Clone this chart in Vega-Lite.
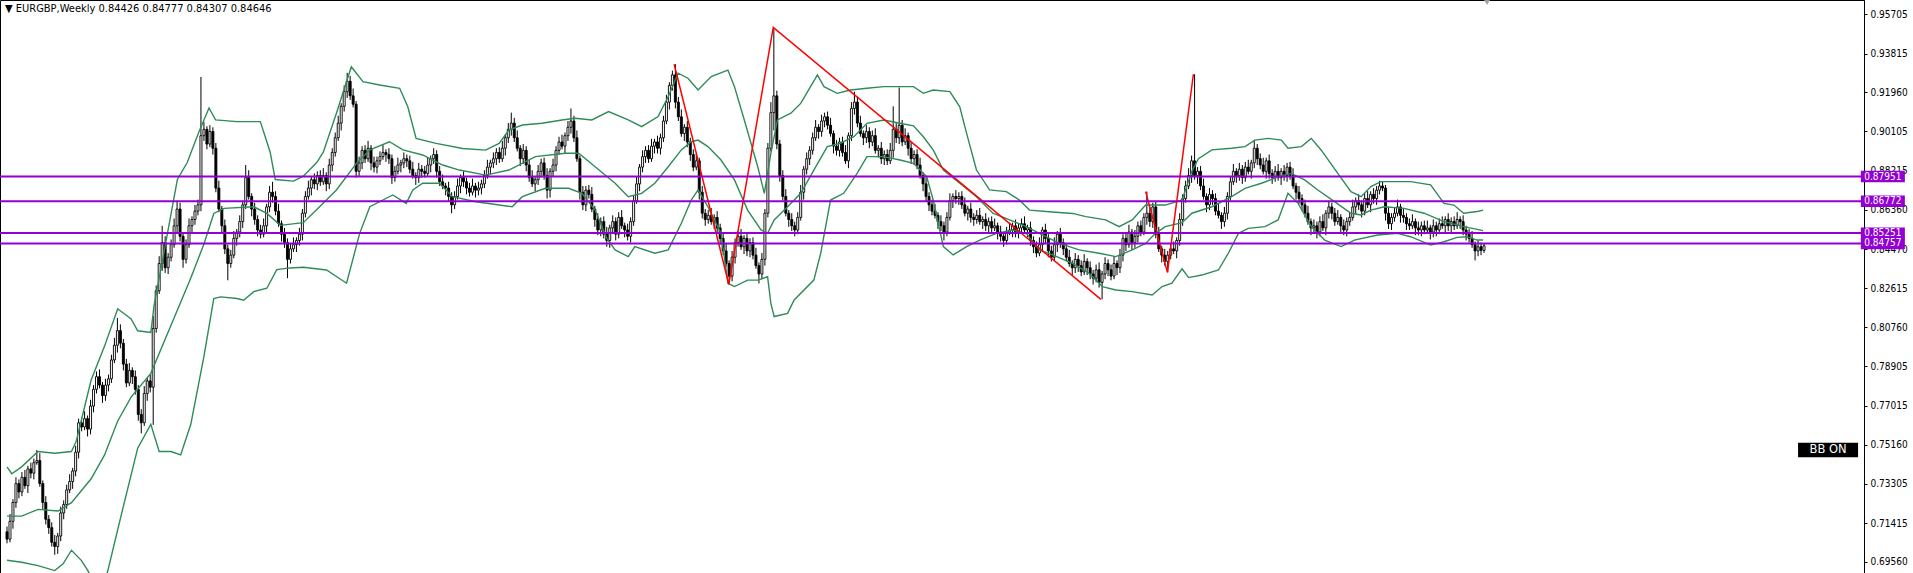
{
"$schema":"https://vega.github.io/schema/vega-lite/v6.json",
"width":1864,"height":573,"autosize":{"type":"none"},"padding":{"left":0,"top":0,"right":49,"bottom":0},"background":"#ffffff",
"config":{"view":{"stroke":"#000000","strokeWidth":1},"font":"DejaVu Sans Condensed, DejaVu Sans",
 "axisY":{"grid":false,"domain":true,"domainColor":"#000000","tickColor":"#000000","tickSize":3,"labelPadding":3,"labelFont":"DejaVu Sans Condensed, DejaVu Sans","labelFontSize":10,"labelColor":"#000000","labelOverlap":false,"labelFlush":false}},
"title":{"text":"▼ EURGBP,Weekly  0.84426 0.84777 0.84307 0.84646","anchor":"start","frame":"group","orient":"top","offset":-24,"baseline":"alphabetic","dx":5,"font":"DejaVu Sans Condensed, DejaVu Sans","fontSize":11,"fontWeight":"normal","color":"#000000"},
"datasets":{
"bars":[
{"i":0,"o":0.7100,"h":0.7125,"l":0.7045,"c":0.7065},{"i":1,"o":0.7065,"h":0.7185,"l":0.7050,"c":0.7150},{"i":2,"o":0.7150,"h":0.7255,"l":0.7115,"c":0.7240},{"i":3,"o":0.7240,"h":0.7360,"l":0.7215,"c":0.7330},{"i":4,"o":0.7330,"h":0.7350,"l":0.7260,"c":0.7290},{"i":5,"o":0.7290,"h":0.7385,"l":0.7270,"c":0.7360},{"i":6,"o":0.7360,"h":0.7395,"l":0.7305,"c":0.7320},{"i":7,"o":0.7320,"h":0.7415,"l":0.7285,"c":0.7400},{"i":8,"o":0.7400,"h":0.7430,"l":0.7355,"c":0.7380},{"i":9,"o":0.7380,"h":0.7450,"l":0.7350,"c":0.7430},
{"i":10,"o":0.7430,"h":0.7490,"l":0.7420,"c":0.7440},{"i":11,"o":0.7440,"h":0.7475,"l":0.7315,"c":0.7330},{"i":12,"o":0.7330,"h":0.7345,"l":0.7205,"c":0.7240},{"i":13,"o":0.7240,"h":0.7270,"l":0.7135,"c":0.7160},{"i":14,"o":0.7160,"h":0.7180,"l":0.7090,"c":0.7120},{"i":15,"o":0.7120,"h":0.7145,"l":0.7030,"c":0.7050},{"i":16,"o":0.7050,"h":0.7085,"l":0.6990,"c":0.7030},{"i":17,"o":0.7030,"h":0.7095,"l":0.6995,"c":0.7080},{"i":18,"o":0.7080,"h":0.7220,"l":0.7055,"c":0.7190},{"i":19,"o":0.7190,"h":0.7250,"l":0.7160,"c":0.7230},
{"i":20,"o":0.7230,"h":0.7325,"l":0.7210,"c":0.7300},{"i":21,"o":0.7300,"h":0.7375,"l":0.7285,"c":0.7340},{"i":22,"o":0.7340,"h":0.7405,"l":0.7305,"c":0.7390},{"i":23,"o":0.7390,"h":0.7510,"l":0.7365,"c":0.7480},{"i":24,"o":0.7480,"h":0.7640,"l":0.7450,"c":0.7620},{"i":25,"o":0.7620,"h":0.7645,"l":0.7580,"c":0.7600},{"i":26,"o":0.7600,"h":0.7675,"l":0.7585,"c":0.7640},{"i":27,"o":0.7640,"h":0.7655,"l":0.7555,"c":0.7590},{"i":28,"o":0.7590,"h":0.7730,"l":0.7565,"c":0.7700},{"i":29,"o":0.7700,"h":0.7800,"l":0.7670,"c":0.7780},
{"i":30,"o":0.7780,"h":0.7865,"l":0.7760,"c":0.7840},{"i":31,"o":0.7840,"h":0.7875,"l":0.7785,"c":0.7800},{"i":32,"o":0.7800,"h":0.7815,"l":0.7715,"c":0.7750},{"i":33,"o":0.7750,"h":0.7830,"l":0.7725,"c":0.7800},{"i":34,"o":0.7800,"h":0.7850,"l":0.7770,"c":0.7830},{"i":35,"o":0.7830,"h":0.7945,"l":0.7810,"c":0.7920},{"i":36,"o":0.7920,"h":0.8025,"l":0.7905,"c":0.7990},{"i":37,"o":0.7990,"h":0.8120,"l":0.7955,"c":0.8060},{"i":38,"o":0.8060,"h":0.8090,"l":0.7975,"c":0.8000},{"i":39,"o":0.8000,"h":0.8020,"l":0.7870,"c":0.7900},
{"i":40,"o":0.7900,"h":0.7925,"l":0.7790,"c":0.7810},{"i":41,"o":0.7810,"h":0.7905,"l":0.7795,"c":0.7870},{"i":42,"o":0.7870,"h":0.7885,"l":0.7805,"c":0.7840},{"i":43,"o":0.7840,"h":0.7870,"l":0.7755,"c":0.7780},{"i":44,"o":0.7780,"h":0.7800,"l":0.7630,"c":0.7660},{"i":45,"o":0.7660,"h":0.7685,"l":0.7570,"c":0.7620},{"i":46,"o":0.7620,"h":0.7795,"l":0.7605,"c":0.7760},{"i":47,"o":0.7760,"h":0.7835,"l":0.7725,"c":0.7820},{"i":48,"o":0.7820,"h":0.7850,"l":0.7765,"c":0.7790},{"i":49,"o":0.7790,"h":0.8130,"l":0.7610,"c":0.8070},
{"i":50,"o":0.8070,"h":0.8275,"l":0.8050,"c":0.8250},{"i":51,"o":0.8250,"h":0.8415,"l":0.8235,"c":0.8380},{"i":52,"o":0.8380,"h":0.8560,"l":0.8345,"c":0.8480},{"i":53,"o":0.8480,"h":0.8510,"l":0.8335,"c":0.8360},{"i":54,"o":0.8360,"h":0.8430,"l":0.8330,"c":0.8410},{"i":55,"o":0.8410,"h":0.8495,"l":0.8390,"c":0.8470},{"i":56,"o":0.8470,"h":0.8595,"l":0.8455,"c":0.8560},{"i":57,"o":0.8560,"h":0.8680,"l":0.8525,"c":0.8640},{"i":58,"o":0.8640,"h":0.8670,"l":0.8485,"c":0.8510},{"i":59,"o":0.8510,"h":0.8530,"l":0.8360,"c":0.8400},
{"i":60,"o":0.8400,"h":0.8495,"l":0.8380,"c":0.8470},{"i":61,"o":0.8470,"h":0.8595,"l":0.8455,"c":0.8560},{"i":62,"o":0.8560,"h":0.8605,"l":0.8525,"c":0.8590},{"i":63,"o":0.8590,"h":0.8660,"l":0.8565,"c":0.8630},{"i":64,"o":0.8630,"h":0.8685,"l":0.8610,"c":0.8660},{"i":65,"o":0.8660,"h":0.9270,"l":0.8630,"c":0.8990},{"i":66,"o":0.8990,"h":0.9055,"l":0.8965,"c":0.9020},{"i":67,"o":0.9020,"h":0.9035,"l":0.8925,"c":0.8950},{"i":68,"o":0.8950,"h":0.9040,"l":0.8935,"c":0.9010},{"i":69,"o":0.9010,"h":0.9030,"l":0.8900,"c":0.8930},
{"i":70,"o":0.8930,"h":0.8955,"l":0.8720,"c":0.8740},{"i":71,"o":0.8740,"h":0.8775,"l":0.8625,"c":0.8640},{"i":72,"o":0.8640,"h":0.8655,"l":0.8525,"c":0.8560},{"i":73,"o":0.8560,"h":0.8590,"l":0.8425,"c":0.8450},{"i":74,"o":0.8450,"h":0.8470,"l":0.8300,"c":0.8380},{"i":75,"o":0.8380,"h":0.8445,"l":0.8360,"c":0.8420},{"i":76,"o":0.8420,"h":0.8535,"l":0.8405,"c":0.8500},{"i":77,"o":0.8500,"h":0.8545,"l":0.8465,"c":0.8530},{"i":78,"o":0.8530,"h":0.8610,"l":0.8505,"c":0.8580},{"i":79,"o":0.8580,"h":0.8680,"l":0.8550,"c":0.8660},
{"i":80,"o":0.8660,"h":0.8850,"l":0.8640,"c":0.8790},{"i":81,"o":0.8790,"h":0.8825,"l":0.8685,"c":0.8700},{"i":82,"o":0.8700,"h":0.8715,"l":0.8605,"c":0.8640},{"i":83,"o":0.8640,"h":0.8670,"l":0.8565,"c":0.8590},{"i":84,"o":0.8590,"h":0.8610,"l":0.8510,"c":0.8540},{"i":85,"o":0.8540,"h":0.8565,"l":0.8500,"c":0.8520},{"i":86,"o":0.8520,"h":0.8595,"l":0.8505,"c":0.8560},{"i":87,"o":0.8560,"h":0.8665,"l":0.8525,"c":0.8650},{"i":88,"o":0.8650,"h":0.8750,"l":0.8625,"c":0.8720},{"i":89,"o":0.8720,"h":0.8770,"l":0.8670,"c":0.8700},
{"i":90,"o":0.8700,"h":0.8725,"l":0.8610,"c":0.8630},{"i":91,"o":0.8630,"h":0.8665,"l":0.8555,"c":0.8570},{"i":92,"o":0.8570,"h":0.8585,"l":0.8485,"c":0.8520},{"i":93,"o":0.8520,"h":0.8550,"l":0.8455,"c":0.8480},{"i":94,"o":0.8480,"h":0.8500,"l":0.8310,"c":0.8400},{"i":95,"o":0.8400,"h":0.8475,"l":0.8380,"c":0.8450},{"i":96,"o":0.8450,"h":0.8505,"l":0.8435,"c":0.8470},{"i":97,"o":0.8470,"h":0.8505,"l":0.8435,"c":0.8490},{"i":98,"o":0.8490,"h":0.8550,"l":0.8465,"c":0.8520},{"i":99,"o":0.8520,"h":0.8640,"l":0.8490,"c":0.8620},
{"i":100,"o":0.8620,"h":0.8725,"l":0.8600,"c":0.8700},{"i":101,"o":0.8700,"h":0.8775,"l":0.8685,"c":0.8740},{"i":102,"o":0.8740,"h":0.8795,"l":0.8705,"c":0.8780},{"i":103,"o":0.8780,"h":0.8810,"l":0.8735,"c":0.8760},{"i":104,"o":0.8760,"h":0.8820,"l":0.8730,"c":0.8800},{"i":105,"o":0.8800,"h":0.8825,"l":0.8750,"c":0.8770},{"i":106,"o":0.8770,"h":0.8835,"l":0.8755,"c":0.8800},{"i":107,"o":0.8800,"h":0.8815,"l":0.8725,"c":0.8760},{"i":108,"o":0.8760,"h":0.8880,"l":0.8735,"c":0.8850},{"i":109,"o":0.8850,"h":0.8930,"l":0.8820,"c":0.8910},
{"i":110,"o":0.8910,"h":0.9005,"l":0.8890,"c":0.8980},{"i":111,"o":0.8980,"h":0.9085,"l":0.8965,"c":0.9050},{"i":112,"o":0.9050,"h":0.9145,"l":0.9015,"c":0.9130},{"i":113,"o":0.9130,"h":0.9230,"l":0.9105,"c":0.9200},{"i":114,"o":0.9200,"h":0.9290,"l":0.9170,"c":0.9250},{"i":115,"o":0.9250,"h":0.9275,"l":0.9160,"c":0.9180},{"i":116,"o":0.9180,"h":0.9215,"l":0.9125,"c":0.9140},{"i":117,"o":0.9140,"h":0.9155,"l":0.8790,"c":0.8820},{"i":118,"o":0.8820,"h":0.8890,"l":0.8795,"c":0.8860},{"i":119,"o":0.8860,"h":0.8940,"l":0.8830,"c":0.8920},
{"i":120,"o":0.8920,"h":0.8945,"l":0.8860,"c":0.8880},{"i":121,"o":0.8880,"h":0.8965,"l":0.8865,"c":0.8930},{"i":122,"o":0.8930,"h":0.8945,"l":0.8825,"c":0.8860},{"i":123,"o":0.8860,"h":0.8890,"l":0.8815,"c":0.8840},{"i":124,"o":0.8840,"h":0.8890,"l":0.8810,"c":0.8870},{"i":125,"o":0.8870,"h":0.8915,"l":0.8850,"c":0.8890},{"i":126,"o":0.8890,"h":0.8945,"l":0.8875,"c":0.8910},{"i":127,"o":0.8910,"h":0.8925,"l":0.8865,"c":0.8900},{"i":128,"o":0.8900,"h":0.8930,"l":0.8855,"c":0.8880},{"i":129,"o":0.8880,"h":0.8900,"l":0.8760,"c":0.8790},
{"i":130,"o":0.8790,"h":0.8845,"l":0.8770,"c":0.8820},{"i":131,"o":0.8820,"h":0.8885,"l":0.8805,"c":0.8850},{"i":132,"o":0.8850,"h":0.8875,"l":0.8815,"c":0.8860},{"i":133,"o":0.8860,"h":0.8910,"l":0.8835,"c":0.8880},{"i":134,"o":0.8880,"h":0.8900,"l":0.8840,"c":0.8870},{"i":135,"o":0.8870,"h":0.8895,"l":0.8810,"c":0.8830},{"i":136,"o":0.8830,"h":0.8865,"l":0.8785,"c":0.8800},{"i":137,"o":0.8800,"h":0.8815,"l":0.8755,"c":0.8790},{"i":138,"o":0.8790,"h":0.8860,"l":0.8765,"c":0.8830},{"i":139,"o":0.8830,"h":0.8850,"l":0.8790,"c":0.8820},
{"i":140,"o":0.8820,"h":0.8845,"l":0.8790,"c":0.8810},{"i":141,"o":0.8810,"h":0.8885,"l":0.8795,"c":0.8850},{"i":142,"o":0.8850,"h":0.8895,"l":0.8815,"c":0.8880},{"i":143,"o":0.8880,"h":0.8930,"l":0.8855,"c":0.8900},{"i":144,"o":0.8900,"h":0.8920,"l":0.8790,"c":0.8820},{"i":145,"o":0.8820,"h":0.8845,"l":0.8750,"c":0.8770},{"i":146,"o":0.8770,"h":0.8805,"l":0.8735,"c":0.8750},{"i":147,"o":0.8750,"h":0.8765,"l":0.8705,"c":0.8740},{"i":148,"o":0.8740,"h":0.8770,"l":0.8675,"c":0.8700},{"i":149,"o":0.8700,"h":0.8720,"l":0.8620,"c":0.8660},
{"i":150,"o":0.8660,"h":0.8725,"l":0.8640,"c":0.8700},{"i":151,"o":0.8700,"h":0.8785,"l":0.8685,"c":0.8750},{"i":152,"o":0.8750,"h":0.8805,"l":0.8715,"c":0.8790},{"i":153,"o":0.8790,"h":0.8820,"l":0.8745,"c":0.8770},{"i":154,"o":0.8770,"h":0.8790,"l":0.8710,"c":0.8740},{"i":155,"o":0.8740,"h":0.8765,"l":0.8700,"c":0.8720},{"i":156,"o":0.8720,"h":0.8785,"l":0.8705,"c":0.8750},{"i":157,"o":0.8750,"h":0.8765,"l":0.8695,"c":0.8730},{"i":158,"o":0.8730,"h":0.8770,"l":0.8705,"c":0.8740},{"i":159,"o":0.8740,"h":0.8780,"l":0.8710,"c":0.8760},
{"i":160,"o":0.8760,"h":0.8825,"l":0.8740,"c":0.8800},{"i":161,"o":0.8800,"h":0.8875,"l":0.8785,"c":0.8840},{"i":162,"o":0.8840,"h":0.8875,"l":0.8805,"c":0.8860},{"i":163,"o":0.8860,"h":0.8910,"l":0.8835,"c":0.8880},{"i":164,"o":0.8880,"h":0.8930,"l":0.8850,"c":0.8910},{"i":165,"o":0.8910,"h":0.8935,"l":0.8860,"c":0.8880},{"i":166,"o":0.8880,"h":0.8965,"l":0.8865,"c":0.8930},{"i":167,"o":0.8930,"h":0.8995,"l":0.8895,"c":0.8980},{"i":168,"o":0.8980,"h":0.9050,"l":0.8955,"c":0.9020},{"i":169,"o":0.9020,"h":0.9100,"l":0.8990,"c":0.9050},
{"i":170,"o":0.9050,"h":0.9075,"l":0.8960,"c":0.8980},{"i":171,"o":0.8980,"h":0.9015,"l":0.8915,"c":0.8930},{"i":172,"o":0.8930,"h":0.8945,"l":0.8845,"c":0.8880},{"i":173,"o":0.8880,"h":0.8950,"l":0.8855,"c":0.8920},{"i":174,"o":0.8920,"h":0.8940,"l":0.8820,"c":0.8850},{"i":175,"o":0.8850,"h":0.8875,"l":0.8770,"c":0.8790},{"i":176,"o":0.8790,"h":0.8825,"l":0.8745,"c":0.8760},{"i":177,"o":0.8760,"h":0.8795,"l":0.8725,"c":0.8780},{"i":178,"o":0.8780,"h":0.8850,"l":0.8755,"c":0.8820},{"i":179,"o":0.8820,"h":0.8880,"l":0.8790,"c":0.8860},
{"i":180,"o":0.8860,"h":0.8885,"l":0.8780,"c":0.8800},{"i":181,"o":0.8800,"h":0.8835,"l":0.8690,"c":0.8730},{"i":182,"o":0.8730,"h":0.8835,"l":0.8695,"c":0.8820},{"i":183,"o":0.8820,"h":0.8880,"l":0.8795,"c":0.8850},{"i":184,"o":0.8850,"h":0.8940,"l":0.8820,"c":0.8920},{"i":185,"o":0.8920,"h":0.8985,"l":0.8900,"c":0.8960},{"i":186,"o":0.8960,"h":0.8995,"l":0.8925,"c":0.8940},{"i":187,"o":0.8940,"h":0.9005,"l":0.8905,"c":0.8990},{"i":188,"o":0.8990,"h":0.9060,"l":0.8965,"c":0.9030},{"i":189,"o":0.9030,"h":0.9120,"l":0.9000,"c":0.9060},
{"i":190,"o":0.9060,"h":0.9085,"l":0.8960,"c":0.8980},{"i":191,"o":0.8980,"h":0.9015,"l":0.8865,"c":0.8880},{"i":192,"o":0.8880,"h":0.8895,"l":0.8685,"c":0.8720},{"i":193,"o":0.8720,"h":0.8750,"l":0.8635,"c":0.8660},{"i":194,"o":0.8660,"h":0.8750,"l":0.8630,"c":0.8730},{"i":195,"o":0.8730,"h":0.8755,"l":0.8690,"c":0.8710},{"i":196,"o":0.8710,"h":0.8745,"l":0.8625,"c":0.8640},{"i":197,"o":0.8640,"h":0.8655,"l":0.8555,"c":0.8590},{"i":198,"o":0.8590,"h":0.8620,"l":0.8515,"c":0.8540},{"i":199,"o":0.8540,"h":0.8600,"l":0.8510,"c":0.8580},
{"i":200,"o":0.8580,"h":0.8605,"l":0.8500,"c":0.8520},{"i":201,"o":0.8520,"h":0.8555,"l":0.8460,"c":0.8490},{"i":202,"o":0.8490,"h":0.8565,"l":0.8455,"c":0.8550},{"i":203,"o":0.8550,"h":0.8610,"l":0.8525,"c":0.8580},{"i":204,"o":0.8580,"h":0.8600,"l":0.8490,"c":0.8520},{"i":205,"o":0.8520,"h":0.8625,"l":0.8500,"c":0.8600},{"i":206,"o":0.8600,"h":0.8635,"l":0.8545,"c":0.8560},{"i":207,"o":0.8560,"h":0.8575,"l":0.8505,"c":0.8540},{"i":208,"o":0.8540,"h":0.8570,"l":0.8490,"c":0.8510},{"i":209,"o":0.8510,"h":0.8600,"l":0.8480,"c":0.8580},
{"i":210,"o":0.8580,"h":0.8705,"l":0.8560,"c":0.8680},{"i":211,"o":0.8680,"h":0.8795,"l":0.8665,"c":0.8760},{"i":212,"o":0.8760,"h":0.8855,"l":0.8725,"c":0.8840},{"i":213,"o":0.8840,"h":0.8920,"l":0.8815,"c":0.8890},{"i":214,"o":0.8890,"h":0.8940,"l":0.8860,"c":0.8920},{"i":215,"o":0.8920,"h":0.8945,"l":0.8860,"c":0.8880},{"i":216,"o":0.8880,"h":0.8975,"l":0.8865,"c":0.8940},{"i":217,"o":0.8940,"h":0.8975,"l":0.8905,"c":0.8960},{"i":218,"o":0.8960,"h":0.8990,"l":0.8905,"c":0.8930},{"i":219,"o":0.8930,"h":0.9000,"l":0.8900,"c":0.8980},
{"i":220,"o":0.8980,"h":0.9085,"l":0.8960,"c":0.9060},{"i":221,"o":0.9060,"h":0.9185,"l":0.9045,"c":0.9150},{"i":222,"o":0.9150,"h":0.9245,"l":0.9115,"c":0.9230},{"i":223,"o":0.9230,"h":0.9300,"l":0.9205,"c":0.9280},{"i":224,"o":0.9280,"h":0.9331,"l":0.9120,"c":0.9150},{"i":225,"o":0.9150,"h":0.9175,"l":0.9060,"c":0.9080},{"i":226,"o":0.9080,"h":0.9115,"l":0.8985,"c":0.9000},{"i":227,"o":0.9000,"h":0.9045,"l":0.8965,"c":0.9030},{"i":228,"o":0.9030,"h":0.9060,"l":0.8935,"c":0.8960},{"i":229,"o":0.8960,"h":0.8980,"l":0.8870,"c":0.8900},
{"i":230,"o":0.8900,"h":0.8925,"l":0.8820,"c":0.8840},{"i":231,"o":0.8840,"h":0.8905,"l":0.8825,"c":0.8870},{"i":232,"o":0.8870,"h":0.8885,"l":0.8685,"c":0.8720},{"i":233,"o":0.8720,"h":0.8750,"l":0.8595,"c":0.8620},{"i":234,"o":0.8620,"h":0.8640,"l":0.8560,"c":0.8590},{"i":235,"o":0.8590,"h":0.8635,"l":0.8570,"c":0.8610},{"i":236,"o":0.8610,"h":0.8645,"l":0.8565,"c":0.8580},{"i":237,"o":0.8580,"h":0.8615,"l":0.8545,"c":0.8600},{"i":238,"o":0.8600,"h":0.8630,"l":0.8525,"c":0.8550},{"i":239,"o":0.8550,"h":0.8570,"l":0.8470,"c":0.8500},
{"i":240,"o":0.8500,"h":0.8525,"l":0.8420,"c":0.8440},{"i":241,"o":0.8440,"h":0.8475,"l":0.8365,"c":0.8380},{"i":242,"o":0.8380,"h":0.8395,"l":0.8281,"c":0.8320},{"i":243,"o":0.8320,"h":0.8440,"l":0.8295,"c":0.8410},{"i":244,"o":0.8410,"h":0.8500,"l":0.8380,"c":0.8480},{"i":245,"o":0.8480,"h":0.8535,"l":0.8460,"c":0.8510},{"i":246,"o":0.8510,"h":0.8545,"l":0.8445,"c":0.8460},{"i":247,"o":0.8460,"h":0.8515,"l":0.8425,"c":0.8500},{"i":248,"o":0.8500,"h":0.8530,"l":0.8415,"c":0.8440},{"i":249,"o":0.8440,"h":0.8500,"l":0.8410,"c":0.8480},
{"i":250,"o":0.8480,"h":0.8505,"l":0.8400,"c":0.8420},{"i":251,"o":0.8420,"h":0.8455,"l":0.8355,"c":0.8370},{"i":252,"o":0.8370,"h":0.8385,"l":0.8285,"c":0.8330},{"i":253,"o":0.8330,"h":0.8430,"l":0.8305,"c":0.8400},{"i":254,"o":0.8400,"h":0.8640,"l":0.8370,"c":0.8620},{"i":255,"o":0.8620,"h":0.8955,"l":0.8600,"c":0.8930},{"i":256,"o":0.8930,"h":0.9150,"l":0.8915,"c":0.9100},{"i":257,"o":0.9100,"h":0.9500,"l":0.9015,"c":0.9180},{"i":258,"o":0.9180,"h":0.9205,"l":0.8925,"c":0.8950},{"i":259,"o":0.8950,"h":0.8970,"l":0.8770,"c":0.8800},
{"i":260,"o":0.8800,"h":0.8825,"l":0.8680,"c":0.8700},{"i":261,"o":0.8700,"h":0.8735,"l":0.8605,"c":0.8620},{"i":262,"o":0.8620,"h":0.8635,"l":0.8555,"c":0.8590},{"i":263,"o":0.8590,"h":0.8620,"l":0.8535,"c":0.8560},{"i":264,"o":0.8560,"h":0.8580,"l":0.8510,"c":0.8540},{"i":265,"o":0.8540,"h":0.8625,"l":0.8520,"c":0.8600},{"i":266,"o":0.8600,"h":0.8755,"l":0.8585,"c":0.8720},{"i":267,"o":0.8720,"h":0.8845,"l":0.8685,"c":0.8830},{"i":268,"o":0.8830,"h":0.8910,"l":0.8805,"c":0.8880},{"i":269,"o":0.8880,"h":0.8940,"l":0.8850,"c":0.8920},
{"i":270,"o":0.8920,"h":0.9005,"l":0.8900,"c":0.8980},{"i":271,"o":0.8980,"h":0.9065,"l":0.8965,"c":0.9030},{"i":272,"o":0.9030,"h":0.9045,"l":0.8975,"c":0.9010},{"i":273,"o":0.9010,"h":0.9090,"l":0.8985,"c":0.9060},{"i":274,"o":0.9060,"h":0.9100,"l":0.9030,"c":0.9080},{"i":275,"o":0.9080,"h":0.9105,"l":0.9020,"c":0.9040},{"i":276,"o":0.9040,"h":0.9075,"l":0.8985,"c":0.9000},{"i":277,"o":0.9000,"h":0.9015,"l":0.8905,"c":0.8940},{"i":278,"o":0.8940,"h":0.8970,"l":0.8895,"c":0.8920},{"i":279,"o":0.8920,"h":0.8980,"l":0.8890,"c":0.8960},
{"i":280,"o":0.8960,"h":0.8985,"l":0.8890,"c":0.8910},{"i":281,"o":0.8910,"h":0.8945,"l":0.8855,"c":0.8870},{"i":282,"o":0.8870,"h":0.9005,"l":0.8835,"c":0.8990},{"i":283,"o":0.8990,"h":0.9150,"l":0.8965,"c":0.9120},{"i":284,"o":0.9120,"h":0.9200,"l":0.9090,"c":0.9150},{"i":285,"o":0.9150,"h":0.9175,"l":0.9030,"c":0.9050},{"i":286,"o":0.9050,"h":0.9085,"l":0.8985,"c":0.9000},{"i":287,"o":0.9000,"h":0.9015,"l":0.8945,"c":0.8980},{"i":288,"o":0.8980,"h":0.9040,"l":0.8955,"c":0.9010},{"i":289,"o":0.9010,"h":0.9030,"l":0.8930,"c":0.8960},
{"i":290,"o":0.8960,"h":0.9015,"l":0.8940,"c":0.8990},{"i":291,"o":0.8990,"h":0.9025,"l":0.8905,"c":0.8920},{"i":292,"o":0.8920,"h":0.8945,"l":0.8885,"c":0.8930},{"i":293,"o":0.8930,"h":0.8960,"l":0.8855,"c":0.8880},{"i":294,"o":0.8880,"h":0.8920,"l":0.8850,"c":0.8900},{"i":295,"o":0.8900,"h":0.8925,"l":0.8850,"c":0.8870},{"i":296,"o":0.8870,"h":0.8955,"l":0.8855,"c":0.8920},{"i":297,"o":0.8920,"h":0.9130,"l":0.8885,"c":0.9020},{"i":298,"o":0.9020,"h":0.9050,"l":0.8955,"c":0.8980},{"i":299,"o":0.8980,"h":0.9220,"l":0.8950,"c":0.9040},
{"i":300,"o":0.9040,"h":0.9065,"l":0.8940,"c":0.8960},{"i":301,"o":0.8960,"h":0.9025,"l":0.8945,"c":0.8990},{"i":302,"o":0.8990,"h":0.9005,"l":0.8895,"c":0.8930},{"i":303,"o":0.8930,"h":0.8960,"l":0.8855,"c":0.8880},{"i":304,"o":0.8880,"h":0.8920,"l":0.8850,"c":0.8900},{"i":305,"o":0.8900,"h":0.8925,"l":0.8830,"c":0.8850},{"i":306,"o":0.8850,"h":0.8885,"l":0.8785,"c":0.8800},{"i":307,"o":0.8800,"h":0.8815,"l":0.8725,"c":0.8760},{"i":308,"o":0.8760,"h":0.8790,"l":0.8675,"c":0.8700},{"i":309,"o":0.8700,"h":0.8720,"l":0.8630,"c":0.8660},
{"i":310,"o":0.8660,"h":0.8685,"l":0.8610,"c":0.8630},{"i":311,"o":0.8630,"h":0.8665,"l":0.8595,"c":0.8610},{"i":312,"o":0.8610,"h":0.8625,"l":0.8545,"c":0.8580},{"i":313,"o":0.8580,"h":0.8610,"l":0.8535,"c":0.8560},{"i":314,"o":0.8560,"h":0.8580,"l":0.8490,"c":0.8530},{"i":315,"o":0.8530,"h":0.8625,"l":0.8510,"c":0.8600},{"i":316,"o":0.8600,"h":0.8715,"l":0.8585,"c":0.8680},{"i":317,"o":0.8680,"h":0.8715,"l":0.8645,"c":0.8700},{"i":318,"o":0.8700,"h":0.8730,"l":0.8665,"c":0.8690},{"i":319,"o":0.8690,"h":0.8720,"l":0.8660,"c":0.8700},
{"i":320,"o":0.8700,"h":0.8725,"l":0.8640,"c":0.8660},{"i":321,"o":0.8660,"h":0.8695,"l":0.8605,"c":0.8620},{"i":322,"o":0.8620,"h":0.8655,"l":0.8585,"c":0.8640},{"i":323,"o":0.8640,"h":0.8670,"l":0.8575,"c":0.8600},{"i":324,"o":0.8600,"h":0.8620,"l":0.8560,"c":0.8590},{"i":325,"o":0.8590,"h":0.8635,"l":0.8570,"c":0.8610},{"i":326,"o":0.8610,"h":0.8645,"l":0.8565,"c":0.8580},{"i":327,"o":0.8580,"h":0.8605,"l":0.8545,"c":0.8590},{"i":328,"o":0.8590,"h":0.8620,"l":0.8535,"c":0.8560},{"i":329,"o":0.8560,"h":0.8600,"l":0.8530,"c":0.8580},
{"i":330,"o":0.8580,"h":0.8605,"l":0.8530,"c":0.8550},{"i":331,"o":0.8550,"h":0.8595,"l":0.8535,"c":0.8560},{"i":332,"o":0.8560,"h":0.8575,"l":0.8495,"c":0.8530},{"i":333,"o":0.8530,"h":0.8560,"l":0.8485,"c":0.8510},{"i":334,"o":0.8510,"h":0.8530,"l":0.8460,"c":0.8490},{"i":335,"o":0.8490,"h":0.8555,"l":0.8470,"c":0.8530},{"i":336,"o":0.8530,"h":0.8575,"l":0.8515,"c":0.8540},{"i":337,"o":0.8540,"h":0.8575,"l":0.8505,"c":0.8560},{"i":338,"o":0.8560,"h":0.8590,"l":0.8505,"c":0.8530},{"i":339,"o":0.8530,"h":0.8570,"l":0.8500,"c":0.8550},
{"i":340,"o":0.8550,"h":0.8595,"l":0.8530,"c":0.8570},{"i":341,"o":0.8570,"h":0.8605,"l":0.8525,"c":0.8540},{"i":342,"o":0.8540,"h":0.8565,"l":0.8505,"c":0.8550},{"i":343,"o":0.8550,"h":0.8580,"l":0.8465,"c":0.8490},{"i":344,"o":0.8490,"h":0.8510,"l":0.8430,"c":0.8460},{"i":345,"o":0.8460,"h":0.8485,"l":0.8410,"c":0.8430},{"i":346,"o":0.8430,"h":0.8505,"l":0.8415,"c":0.8470},{"i":347,"o":0.8470,"h":0.8555,"l":0.8435,"c":0.8540},{"i":348,"o":0.8540,"h":0.8570,"l":0.8475,"c":0.8500},{"i":349,"o":0.8500,"h":0.8520,"l":0.8410,"c":0.8440},
{"i":350,"o":0.8440,"h":0.8465,"l":0.8390,"c":0.8410},{"i":351,"o":0.8410,"h":0.8505,"l":0.8395,"c":0.8470},{"i":352,"o":0.8470,"h":0.8535,"l":0.8435,"c":0.8520},{"i":353,"o":0.8520,"h":0.8550,"l":0.8455,"c":0.8480},{"i":354,"o":0.8480,"h":0.8500,"l":0.8420,"c":0.8450},{"i":355,"o":0.8450,"h":0.8475,"l":0.8390,"c":0.8410},{"i":356,"o":0.8410,"h":0.8445,"l":0.8365,"c":0.8380},{"i":357,"o":0.8380,"h":0.8395,"l":0.8325,"c":0.8360},{"i":358,"o":0.8360,"h":0.8430,"l":0.8335,"c":0.8400},{"i":359,"o":0.8400,"h":0.8420,"l":0.8340,"c":0.8370},
{"i":360,"o":0.8370,"h":0.8395,"l":0.8320,"c":0.8340},{"i":361,"o":0.8340,"h":0.8425,"l":0.8325,"c":0.8390},{"i":362,"o":0.8390,"h":0.8405,"l":0.8325,"c":0.8360},{"i":363,"o":0.8360,"h":0.8390,"l":0.8305,"c":0.8330},{"i":364,"o":0.8330,"h":0.8350,"l":0.8280,"c":0.8310},{"i":365,"o":0.8310,"h":0.8375,"l":0.8290,"c":0.8350},{"i":366,"o":0.8350,"h":0.8385,"l":0.8265,"c":0.8290},{"i":367,"o":0.8290,"h":0.8345,"l":0.8209,"c":0.8330},{"i":368,"o":0.8330,"h":0.8410,"l":0.8305,"c":0.8380},{"i":369,"o":0.8380,"h":0.8400,"l":0.8320,"c":0.8350},
{"i":370,"o":0.8350,"h":0.8375,"l":0.8300,"c":0.8320},{"i":371,"o":0.8320,"h":0.8415,"l":0.8305,"c":0.8380},{"i":372,"o":0.8380,"h":0.8395,"l":0.8325,"c":0.8360},{"i":373,"o":0.8360,"h":0.8450,"l":0.8335,"c":0.8420},{"i":374,"o":0.8420,"h":0.8520,"l":0.8390,"c":0.8500},{"i":375,"o":0.8500,"h":0.8525,"l":0.8440,"c":0.8470},{"i":376,"o":0.8470,"h":0.8565,"l":0.8455,"c":0.8530},{"i":377,"o":0.8530,"h":0.8545,"l":0.8445,"c":0.8480},{"i":378,"o":0.8480,"h":0.8540,"l":0.8455,"c":0.8510},{"i":379,"o":0.8510,"h":0.8580,"l":0.8480,"c":0.8560},
{"i":380,"o":0.8560,"h":0.8585,"l":0.8510,"c":0.8530},{"i":381,"o":0.8530,"h":0.8620,"l":0.8515,"c":0.8600},{"i":382,"o":0.8600,"h":0.8723,"l":0.8565,"c":0.8620},{"i":383,"o":0.8620,"h":0.8650,"l":0.8555,"c":0.8580},{"i":384,"o":0.8580,"h":0.8670,"l":0.8550,"c":0.8650},{"i":385,"o":0.8650,"h":0.8675,"l":0.8500,"c":0.8520},{"i":386,"o":0.8520,"h":0.8555,"l":0.8435,"c":0.8450},{"i":387,"o":0.8450,"h":0.8465,"l":0.8385,"c":0.8420},{"i":388,"o":0.8420,"h":0.8450,"l":0.8370,"c":0.8390},{"i":389,"o":0.8390,"h":0.8440,"l":0.8338,"c":0.8420},
{"i":390,"o":0.8420,"h":0.8475,"l":0.8400,"c":0.8450},{"i":391,"o":0.8450,"h":0.8485,"l":0.8425,"c":0.8440},{"i":392,"o":0.8440,"h":0.8505,"l":0.8405,"c":0.8490},{"i":393,"o":0.8490,"h":0.8620,"l":0.8465,"c":0.8590},{"i":394,"o":0.8590,"h":0.8710,"l":0.8560,"c":0.8690},{"i":395,"o":0.8690,"h":0.8775,"l":0.8670,"c":0.8750},{"i":396,"o":0.8750,"h":0.8835,"l":0.8735,"c":0.8800},{"i":397,"o":0.8800,"h":0.8895,"l":0.8765,"c":0.8870},{"i":398,"o":0.8870,"h":0.9283,"l":0.8780,"c":0.8800},{"i":399,"o":0.8800,"h":0.8840,"l":0.8760,"c":0.8820},
{"i":400,"o":0.8820,"h":0.8845,"l":0.8730,"c":0.8750},{"i":401,"o":0.8750,"h":0.8785,"l":0.8685,"c":0.8700},{"i":402,"o":0.8700,"h":0.8715,"l":0.8625,"c":0.8660},{"i":403,"o":0.8660,"h":0.8740,"l":0.8635,"c":0.8710},{"i":404,"o":0.8710,"h":0.8730,"l":0.8660,"c":0.8690},{"i":405,"o":0.8690,"h":0.8715,"l":0.8610,"c":0.8630},{"i":406,"o":0.8630,"h":0.8665,"l":0.8595,"c":0.8610},{"i":407,"o":0.8610,"h":0.8625,"l":0.8545,"c":0.8580},{"i":408,"o":0.8580,"h":0.8650,"l":0.8555,"c":0.8620},{"i":409,"o":0.8620,"h":0.8720,"l":0.8590,"c":0.8700},
{"i":410,"o":0.8700,"h":0.8795,"l":0.8680,"c":0.8770},{"i":411,"o":0.8770,"h":0.8855,"l":0.8755,"c":0.8820},{"i":412,"o":0.8820,"h":0.8835,"l":0.8765,"c":0.8800},{"i":413,"o":0.8800,"h":0.8860,"l":0.8775,"c":0.8830},{"i":414,"o":0.8830,"h":0.8850,"l":0.8760,"c":0.8790},{"i":415,"o":0.8790,"h":0.8865,"l":0.8770,"c":0.8840},{"i":416,"o":0.8840,"h":0.8875,"l":0.8805,"c":0.8820},{"i":417,"o":0.8820,"h":0.8875,"l":0.8785,"c":0.8860},{"i":418,"o":0.8860,"h":0.8970,"l":0.8835,"c":0.8930},{"i":419,"o":0.8930,"h":0.8950,"l":0.8850,"c":0.8880},
{"i":420,"o":0.8880,"h":0.8905,"l":0.8830,"c":0.8850},{"i":421,"o":0.8850,"h":0.8885,"l":0.8805,"c":0.8820},{"i":422,"o":0.8820,"h":0.8885,"l":0.8785,"c":0.8870},{"i":423,"o":0.8870,"h":0.8900,"l":0.8785,"c":0.8810},{"i":424,"o":0.8810,"h":0.8830,"l":0.8760,"c":0.8790},{"i":425,"o":0.8790,"h":0.8845,"l":0.8770,"c":0.8820},{"i":426,"o":0.8820,"h":0.8855,"l":0.8775,"c":0.8790},{"i":427,"o":0.8790,"h":0.8835,"l":0.8755,"c":0.8820},{"i":428,"o":0.8820,"h":0.8850,"l":0.8775,"c":0.8800},{"i":429,"o":0.8800,"h":0.8860,"l":0.8770,"c":0.8840},
{"i":430,"o":0.8840,"h":0.8865,"l":0.8780,"c":0.8800},{"i":431,"o":0.8800,"h":0.8835,"l":0.8735,"c":0.8750},{"i":432,"o":0.8750,"h":0.8765,"l":0.8685,"c":0.8720},{"i":433,"o":0.8720,"h":0.8750,"l":0.8665,"c":0.8690},{"i":434,"o":0.8690,"h":0.8710,"l":0.8630,"c":0.8660},{"i":435,"o":0.8660,"h":0.8685,"l":0.8600,"c":0.8620},{"i":436,"o":0.8620,"h":0.8655,"l":0.8565,"c":0.8580},{"i":437,"o":0.8580,"h":0.8595,"l":0.8515,"c":0.8550},{"i":438,"o":0.8550,"h":0.8590,"l":0.8525,"c":0.8560},{"i":439,"o":0.8560,"h":0.8580,"l":0.8500,"c":0.8530},
{"i":440,"o":0.8530,"h":0.8605,"l":0.8510,"c":0.8580},{"i":441,"o":0.8580,"h":0.8615,"l":0.8535,"c":0.8550},{"i":442,"o":0.8550,"h":0.8635,"l":0.8515,"c":0.8620},{"i":443,"o":0.8620,"h":0.8680,"l":0.8595,"c":0.8650},{"i":444,"o":0.8650,"h":0.8670,"l":0.8590,"c":0.8620},{"i":445,"o":0.8620,"h":0.8645,"l":0.8560,"c":0.8580},{"i":446,"o":0.8580,"h":0.8635,"l":0.8565,"c":0.8600},{"i":447,"o":0.8600,"h":0.8615,"l":0.8525,"c":0.8560},{"i":448,"o":0.8560,"h":0.8590,"l":0.8515,"c":0.8540},{"i":449,"o":0.8540,"h":0.8600,"l":0.8510,"c":0.8580},
{"i":450,"o":0.8580,"h":0.8625,"l":0.8560,"c":0.8600},{"i":451,"o":0.8600,"h":0.8685,"l":0.8585,"c":0.8650},{"i":452,"o":0.8650,"h":0.8695,"l":0.8615,"c":0.8680},{"i":453,"o":0.8680,"h":0.8710,"l":0.8635,"c":0.8660},{"i":454,"o":0.8660,"h":0.8680,"l":0.8600,"c":0.8630},{"i":455,"o":0.8630,"h":0.8715,"l":0.8610,"c":0.8690},{"i":456,"o":0.8690,"h":0.8725,"l":0.8645,"c":0.8660},{"i":457,"o":0.8660,"h":0.8725,"l":0.8625,"c":0.8710},{"i":458,"o":0.8710,"h":0.8740,"l":0.8665,"c":0.8690},{"i":459,"o":0.8690,"h":0.8750,"l":0.8660,"c":0.8730},
{"i":460,"o":0.8730,"h":0.8775,"l":0.8710,"c":0.8750},{"i":461,"o":0.8750,"h":0.8770,"l":0.8725,"c":0.8740},{"i":462,"o":0.8740,"h":0.8755,"l":0.8585,"c":0.8620},{"i":463,"o":0.8620,"h":0.8650,"l":0.8545,"c":0.8570},{"i":464,"o":0.8570,"h":0.8620,"l":0.8540,"c":0.8600},{"i":465,"o":0.8600,"h":0.8645,"l":0.8580,"c":0.8620},{"i":466,"o":0.8620,"h":0.8685,"l":0.8605,"c":0.8650},{"i":467,"o":0.8650,"h":0.8665,"l":0.8575,"c":0.8610},{"i":468,"o":0.8610,"h":0.8640,"l":0.8575,"c":0.8600},{"i":469,"o":0.8600,"h":0.8620,"l":0.8540,"c":0.8570},
{"i":470,"o":0.8570,"h":0.8595,"l":0.8540,"c":0.8560},{"i":471,"o":0.8560,"h":0.8615,"l":0.8545,"c":0.8580},{"i":472,"o":0.8580,"h":0.8595,"l":0.8515,"c":0.8550},{"i":473,"o":0.8550,"h":0.8580,"l":0.8515,"c":0.8540},{"i":474,"o":0.8540,"h":0.8580,"l":0.8510,"c":0.8560},{"i":475,"o":0.8560,"h":0.8585,"l":0.8520,"c":0.8540},{"i":476,"o":0.8540,"h":0.8585,"l":0.8525,"c":0.8550},{"i":477,"o":0.8550,"h":0.8565,"l":0.8495,"c":0.8530},{"i":478,"o":0.8530,"h":0.8590,"l":0.8505,"c":0.8560},{"i":479,"o":0.8560,"h":0.8580,"l":0.8510,"c":0.8540},
{"i":480,"o":0.8540,"h":0.8595,"l":0.8520,"c":0.8570},{"i":481,"o":0.8570,"h":0.8605,"l":0.8545,"c":0.8560},{"i":482,"o":0.8560,"h":0.8605,"l":0.8525,"c":0.8590},{"i":483,"o":0.8590,"h":0.8620,"l":0.8535,"c":0.8560},{"i":484,"o":0.8560,"h":0.8600,"l":0.8530,"c":0.8580},{"i":485,"o":0.8580,"h":0.8605,"l":0.8540,"c":0.8560},{"i":486,"o":0.8560,"h":0.8625,"l":0.8545,"c":0.8590},{"i":487,"o":0.8590,"h":0.8605,"l":0.8545,"c":0.8580},{"i":488,"o":0.8580,"h":0.8610,"l":0.8515,"c":0.8540},{"i":489,"o":0.8540,"h":0.8560,"l":0.8490,"c":0.8520},
{"i":490,"o":0.8520,"h":0.8545,"l":0.8480,"c":0.8500},{"i":491,"o":0.8500,"h":0.8535,"l":0.8455,"c":0.8470},{"i":492,"o":0.8470,"h":0.8485,"l":0.8395,"c":0.8440},{"i":493,"o":0.8440,"h":0.8490,"l":0.8415,"c":0.8460},{"i":494,"o":0.8460,"h":0.8480,"l":0.8420,"c":0.8443},{"i":495,"o":0.84426,"h":0.84777,"l":0.84307,"c":0.84646}
],
"bands":[
{"b":"u","i":0,"p":0.7410},{"b":"u","i":1.6,"p":0.7377},{"b":"u","i":4.9,"p":0.7410},{"b":"u","i":10.4,"p":0.7483},{"b":"u","i":16,"p":0.7475},{"b":"u","i":21.6,"p":0.7483},{"b":"u","i":23.2,"p":0.7532},{"b":"u","i":28.2,"p":0.7824},{"b":"u","i":32.7,"p":0.7986},{"b":"u","i":37.1,"p":0.8164},{"b":"u","i":41.6,"p":0.8116},{"b":"u","i":43.8,"p":0.8059},{"b":"u","i":48.2,"p":0.8051},{"b":"u","i":49.3,"p":0.8181},{"b":"u","i":52.7,"p":0.8440},{"b":"u","i":57.1,"p":0.8781},{"b":"u","i":60.4,"p":0.8862},{"b":"u","i":64.3,"p":0.9008},{"b":"u","i":67.7,"p":0.9122},{"b":"u","i":69.9,"p":0.9065},{"b":"u","i":77.1,"p":0.9057},{"b":"u","i":84.9,"p":0.9057},{"b":"u","i":88.2,"p":0.8911},{"b":"u","i":89.9,"p":0.8781},{"b":"u","i":96,"p":0.8773},{"b":"u","i":99.3,"p":0.8797},{"b":"u","i":103.8,"p":0.8862},{"b":"u","i":106,"p":0.8911},{"b":"u","i":110.4,"p":0.9097},{"b":"u","i":115.4,"p":0.9319},{"b":"u","i":119.3,"p":0.9248},{"b":"u","i":124.9,"p":0.9232},{"b":"u","i":131.6,"p":0.9216},{"b":"u","i":134.3,"p":0.9129},{"b":"u","i":137.1,"p":0.8977},{"b":"u","i":143.8,"p":0.8953},{"b":"u","i":152.7,"p":0.8929},{"b":"u","i":160.4,"p":0.8921},{"b":"u","i":164.9,"p":0.8953},{"b":"u","i":168.2,"p":0.9017},{"b":"u","i":172.7,"p":0.9041},{"b":"u","i":179.3,"p":0.9049},{"b":"u","i":186,"p":0.9065},{"b":"u","i":190.4,"p":0.9073},{"b":"u","i":196,"p":0.9065},{"b":"u","i":201.6,"p":0.9105},{"b":"u","i":208.2,"p":0.9065},{"b":"u","i":212.7,"p":0.9033},{"b":"u","i":218.2,"p":0.9081},{"b":"u","i":221.6,"p":0.9176},{"b":"u","i":224.9,"p":0.9288},{"b":"u","i":228.2,"p":0.9264},{"b":"u","i":231.6,"p":0.9208},{"b":"u","i":236,"p":0.9272},{"b":"u","i":241.6,"p":0.9303},{"b":"u","i":243.8,"p":0.9224},{"b":"u","i":247.1,"p":0.9065},{"b":"u","i":251.6,"p":0.8842},{"b":"u","i":253.8,"p":0.8715},{"b":"u","i":256,"p":0.8906},{"b":"u","i":258.2,"p":0.9065},{"b":"u","i":262.7,"p":0.9097},{"b":"u","i":266,"p":0.9144},{"b":"u","i":269.3,"p":0.9224},{"b":"u","i":271.6,"p":0.9280},{"b":"u","i":273.8,"p":0.9224},{"b":"u","i":278.2,"p":0.9192},{"b":"u","i":282.7,"p":0.9208},{"b":"u","i":288.2,"p":0.9216},{"b":"u","i":293.8,"p":0.9224},{"b":"u","i":303.8,"p":0.9224},{"b":"u","i":307.1,"p":0.9192},{"b":"u","i":310.4,"p":0.9208},{"b":"u","i":316,"p":0.9200},{"b":"u","i":319.3,"p":0.9128},{"b":"u","i":321.6,"p":0.9001},{"b":"u","i":324.9,"p":0.8826},{"b":"u","i":329.3,"p":0.8731},{"b":"u","i":334.9,"p":0.8723},{"b":"u","i":339.3,"p":0.8683},{"b":"u","i":342.7,"p":0.8635},{"b":"u","i":349.3,"p":0.8627},{"b":"u","i":357.1,"p":0.8619},{"b":"u","i":361.6,"p":0.8604},{"b":"u","i":368.2,"p":0.8588},{"b":"u","i":372.7,"p":0.8556},{"b":"u","i":377.1,"p":0.8588},{"b":"u","i":381.6,"p":0.8659},{"b":"u","i":388.2,"p":0.8659},{"b":"u","i":393.8,"p":0.8683},{"b":"u","i":397.1,"p":0.8820},{"b":"u","i":399.3,"p":0.8880},{"b":"u","i":403.8,"p":0.8922},{"b":"u","i":410.4,"p":0.8930},{"b":"u","i":414.9,"p":0.8938},{"b":"u","i":418.2,"p":0.8969},{"b":"u","i":422.7,"p":0.8977},{"b":"u","i":427.1,"p":0.8969},{"b":"u","i":429.3,"p":0.8930},{"b":"u","i":433.8,"p":0.8938},{"b":"u","i":437.1,"p":0.8977},{"b":"u","i":440.4,"p":0.8922},{"b":"u","i":446,"p":0.8810},{"b":"u","i":450.4,"p":0.8723},{"b":"u","i":453.8,"p":0.8699},{"b":"u","i":457.1,"p":0.8747},{"b":"u","i":460.4,"p":0.8771},{"b":"u","i":470.4,"p":0.8771},{"b":"u","i":477.1,"p":0.8755},{"b":"u","i":481.6,"p":0.8667},{"b":"u","i":484.9,"p":0.8659},{"b":"u","i":488.2,"p":0.8620},{"b":"u","i":492.7,"p":0.8628},{"b":"u","i":494.7,"p":0.8635},
{"b":"m","i":0,"p":0.7175},{"b":"m","i":4.9,"p":0.7175},{"b":"m","i":10.4,"p":0.7207},{"b":"m","i":17.1,"p":0.7199},{"b":"m","i":21.6,"p":0.7239},{"b":"m","i":28.2,"p":0.7353},{"b":"m","i":32.7,"p":0.7467},{"b":"m","i":37.1,"p":0.7629},{"b":"m","i":41.6,"p":0.7743},{"b":"m","i":48.2,"p":0.7856},{"b":"m","i":54.9,"p":0.8083},{"b":"m","i":61.6,"p":0.8311},{"b":"m","i":66,"p":0.8473},{"b":"m","i":69.3,"p":0.8619},{"b":"m","i":72.7,"p":0.8643},{"b":"m","i":82.7,"p":0.8651},{"b":"m","i":87.1,"p":0.8619},{"b":"m","i":91.6,"p":0.8562},{"b":"m","i":99.3,"p":0.8575},{"b":"m","i":104,"p":0.8640},{"b":"m","i":110.4,"p":0.8731},{"b":"m","i":117.1,"p":0.8858},{"b":"m","i":121.6,"p":0.8922},{"b":"m","i":128.2,"p":0.8961},{"b":"m","i":132.7,"p":0.8922},{"b":"m","i":139.3,"p":0.8898},{"b":"m","i":146,"p":0.8850},{"b":"m","i":151.6,"p":0.8826},{"b":"m","i":160.4,"p":0.8802},{"b":"m","i":168.2,"p":0.8826},{"b":"m","i":177.1,"p":0.8890},{"b":"m","i":187.1,"p":0.8906},{"b":"m","i":191.6,"p":0.8906},{"b":"m","i":197.1,"p":0.8842},{"b":"m","i":203.8,"p":0.8763},{"b":"m","i":208.2,"p":0.8699},{"b":"m","i":212.7,"p":0.8715},{"b":"m","i":217.1,"p":0.8763},{"b":"m","i":221.6,"p":0.8842},{"b":"m","i":226,"p":0.8922},{"b":"m","i":229.3,"p":0.8961},{"b":"m","i":231.6,"p":0.8969},{"b":"m","i":234.9,"p":0.8938},{"b":"m","i":239.3,"p":0.8874},{"b":"m","i":243.8,"p":0.8779},{"b":"m","i":248.2,"p":0.8635},{"b":"m","i":252.7,"p":0.8540},{"b":"m","i":254.9,"p":0.8524},{"b":"m","i":257.1,"p":0.8588},{"b":"m","i":261.6,"p":0.8651},{"b":"m","i":266,"p":0.8715},{"b":"m","i":270.4,"p":0.8826},{"b":"m","i":274.9,"p":0.8938},{"b":"m","i":279.3,"p":0.8954},{"b":"m","i":283.8,"p":0.8985},{"b":"m","i":288.2,"p":0.9049},{"b":"m","i":293.8,"p":0.9065},{"b":"m","i":299.3,"p":0.9049},{"b":"m","i":303.8,"p":0.9037},{"b":"m","i":307.1,"p":0.8985},{"b":"m","i":310.4,"p":0.8922},{"b":"m","i":313.8,"p":0.8826},{"b":"m","i":319.3,"p":0.8763},{"b":"m","i":324.9,"p":0.8699},{"b":"m","i":330.4,"p":0.8620},{"b":"m","i":336,"p":0.8588},{"b":"m","i":341.6,"p":0.8556},{"b":"m","i":346,"p":0.8524},{"b":"m","i":352.7,"p":0.8476},{"b":"m","i":359.3,"p":0.8445},{"b":"m","i":366,"p":0.8429},{"b":"m","i":371.6,"p":0.8413},{"b":"m","i":377.1,"p":0.8445},{"b":"m","i":381.6,"p":0.8476},{"b":"m","i":384.9,"p":0.8524},{"b":"m","i":388.2,"p":0.8556},{"b":"m","i":393.8,"p":0.8575},{"b":"m","i":397.1,"p":0.8620},{"b":"m","i":403.8,"p":0.8651},{"b":"m","i":410.4,"p":0.8699},{"b":"m","i":414.9,"p":0.8739},{"b":"m","i":420.4,"p":0.8763},{"b":"m","i":426,"p":0.8794},{"b":"m","i":430.4,"p":0.8810},{"b":"m","i":434.9,"p":0.8779},{"b":"m","i":439.3,"p":0.8731},{"b":"m","i":444.9,"p":0.8675},{"b":"m","i":450.4,"p":0.8620},{"b":"m","i":453.8,"p":0.8612},{"b":"m","i":457.1,"p":0.8635},{"b":"m","i":461.6,"p":0.8651},{"b":"m","i":468.2,"p":0.8643},{"b":"m","i":474.9,"p":0.8620},{"b":"m","i":481.6,"p":0.8580},{"b":"m","i":488.2,"p":0.8556},{"b":"m","i":492.7,"p":0.8543},{"b":"m","i":494.7,"p":0.8537},
{"b":"l","i":0,"p":0.6964},{"b":"l","i":4.9,"p":0.6955},{"b":"l","i":10.4,"p":0.6939},{"b":"l","i":16,"p":0.6915},{"b":"l","i":18.8,"p":0.6947},{"b":"l","i":21.6,"p":0.7012},{"b":"l","i":24.9,"p":0.6964},{"b":"l","i":27.1,"p":0.6915},{"b":"l","i":29.3,"p":0.6850},{"b":"l","i":31.6,"p":0.6820},{"b":"l","i":33.8,"p":0.6915},{"b":"l","i":38.2,"p":0.7175},{"b":"l","i":43.8,"p":0.7499},{"b":"l","i":48.2,"p":0.7613},{"b":"l","i":51,"p":0.7483},{"b":"l","i":54.9,"p":0.7483},{"b":"l","i":58.2,"p":0.7467},{"b":"l","i":61.6,"p":0.7613},{"b":"l","i":66,"p":0.7937},{"b":"l","i":69.3,"p":0.8213},{"b":"l","i":71.6,"p":0.8221},{"b":"l","i":77.1,"p":0.8213},{"b":"l","i":79.3,"p":0.8205},{"b":"l","i":82.7,"p":0.8246},{"b":"l","i":87.1,"p":0.8262},{"b":"l","i":90.4,"p":0.8351},{"b":"l","i":94.9,"p":0.8359},{"b":"l","i":99.3,"p":0.8362},{"b":"l","i":107.1,"p":0.8349},{"b":"l","i":113.8,"p":0.8286},{"b":"l","i":118.2,"p":0.8524},{"b":"l","i":121.6,"p":0.8651},{"b":"l","i":129.3,"p":0.8707},{"b":"l","i":133.8,"p":0.8667},{"b":"l","i":136,"p":0.8731},{"b":"l","i":139.3,"p":0.8763},{"b":"l","i":144.9,"p":0.8763},{"b":"l","i":149.3,"p":0.8699},{"b":"l","i":157.1,"p":0.8675},{"b":"l","i":169.3,"p":0.8651},{"b":"l","i":172.7,"p":0.8699},{"b":"l","i":180.4,"p":0.8739},{"b":"l","i":188.2,"p":0.8739},{"b":"l","i":192.7,"p":0.8715},{"b":"l","i":197.1,"p":0.8635},{"b":"l","i":201,"p":0.8500},{"b":"l","i":203.8,"p":0.8445},{"b":"l","i":208.2,"p":0.8413},{"b":"l","i":210.4,"p":0.8461},{"b":"l","i":217.1,"p":0.8429},{"b":"l","i":221.6,"p":0.8445},{"b":"l","i":226,"p":0.8572},{"b":"l","i":229.3,"p":0.8683},{"b":"l","i":231.6,"p":0.8731},{"b":"l","i":234.9,"p":0.8651},{"b":"l","i":239.3,"p":0.8524},{"b":"l","i":241.6,"p":0.8286},{"b":"l","i":243.8,"p":0.8270},{"b":"l","i":248.2,"p":0.8301},{"b":"l","i":251.6,"p":0.8301},{"b":"l","i":254.9,"p":0.8317},{"b":"l","i":256,"p":0.8190},{"b":"l","i":257.1,"p":0.8127},{"b":"l","i":261.6,"p":0.8142},{"b":"l","i":263.8,"p":0.8206},{"b":"l","i":270.4,"p":0.8301},{"b":"l","i":272.7,"p":0.8429},{"b":"l","i":276,"p":0.8683},{"b":"l","i":280.4,"p":0.8715},{"b":"l","i":284.9,"p":0.8810},{"b":"l","i":288.2,"p":0.8890},{"b":"l","i":293.8,"p":0.8890},{"b":"l","i":299.3,"p":0.8874},{"b":"l","i":303.8,"p":0.8858},{"b":"l","i":308.2,"p":0.8795},{"b":"l","i":310.4,"p":0.8683},{"b":"l","i":313.8,"p":0.8461},{"b":"l","i":317.1,"p":0.8421},{"b":"l","i":321.6,"p":0.8461},{"b":"l","i":326,"p":0.8492},{"b":"l","i":331.6,"p":0.8524},{"b":"l","i":337.1,"p":0.8540},{"b":"l","i":341.6,"p":0.8524},{"b":"l","i":346,"p":0.8445},{"b":"l","i":350.4,"p":0.8421},{"b":"l","i":357.1,"p":0.8381},{"b":"l","i":362.7,"p":0.8333},{"b":"l","i":367.1,"p":0.8270},{"b":"l","i":371.6,"p":0.8254},{"b":"l","i":377.1,"p":0.8246},{"b":"l","i":383.8,"p":0.8230},{"b":"l","i":387.1,"p":0.8270},{"b":"l","i":390.4,"p":0.8286},{"b":"l","i":393.8,"p":0.8355},{"b":"l","i":396,"p":0.8313},{"b":"l","i":400.4,"p":0.8325},{"b":"l","i":406,"p":0.8349},{"b":"l","i":409.3,"p":0.8429},{"b":"l","i":412.7,"p":0.8524},{"b":"l","i":416,"p":0.8548},{"b":"l","i":421.6,"p":0.8556},{"b":"l","i":426,"p":0.8588},{"b":"l","i":429.3,"p":0.8715},{"b":"l","i":432.7,"p":0.8667},{"b":"l","i":437.1,"p":0.8556},{"b":"l","i":441.6,"p":0.8492},{"b":"l","i":447.1,"p":0.8461},{"b":"l","i":451.6,"p":0.8492},{"b":"l","i":459.3,"p":0.8516},{"b":"l","i":466,"p":0.8524},{"b":"l","i":470.4,"p":0.8508},{"b":"l","i":477.1,"p":0.8468},{"b":"l","i":481.6,"p":0.8484},{"b":"l","i":486,"p":0.8505},{"b":"l","i":489.3,"p":0.8508},{"b":"l","i":492.7,"p":0.8492},{"b":"l","i":494.7,"p":0.8492}
],
"zz":[{"z":1,"i":223.6,"p":0.9331},{"z":1,"i":241.9,"p":0.8281},{"z":1,"i":256.8,"p":0.9507},{"z":1,"i":366.6,"p":0.8209},{"z":2,"i":381.6,"p":0.8723},{"z":2,"i":388.9,"p":0.8338},{"z":2,"i":397.6,"p":0.9283}],
"lev":[{"p":0.87951},{"p":0.86772},{"p":0.85251},{"p":0.84757}]
},
"layer":[
{"data":{"name":"bars"},"mark":{"type":"rule","color":"#000000","strokeWidth":1},
 "encoding":{"x":{"field":"i","type":"quantitative","scale":{"domain":[-0.67,620.67],"nice":false,"zero":false},"axis":null},
 "y":{"field":"l","type":"quantitative","scale":{"domain":[0.69035,0.96373],"nice":false,"zero":false},
  "axis":{"orient":"right","title":null,"values":[0.6956,0.71415,0.73305,0.7516,0.77015,0.78905,0.8076,0.82615,0.8447,0.8636,0.88215,0.90105,0.9196,0.93815,0.95705],"format":".5f"}},
 "y2":{"field":"h"}}},
{"data":{"name":"bars"},"mark":{"type":"bar","size":2,"stroke":"#000000","strokeWidth":0.9,"orient":"vertical"},
 "encoding":{"x":{"field":"i","type":"quantitative","scale":{"domain":[-0.67,620.67],"nice":false,"zero":false},"axis":null},
 "y":{"field":"o","type":"quantitative","scale":{"domain":[0.69035,0.96373],"nice":false,"zero":false},"title":null},
 "y2":{"field":"c"},
 "fill":{"condition":{"test":"datum.c >= datum.o","value":"#ffffff"},"value":"#000000"}}},
{"data":{"name":"bands"},"mark":{"type":"line","color":"#2E8B57","strokeWidth":1.4,"clip":true},
 "encoding":{"x":{"field":"i","type":"quantitative","scale":{"domain":[-0.67,620.67],"nice":false,"zero":false},"axis":null},
 "y":{"field":"p","type":"quantitative","scale":{"domain":[0.69035,0.96373],"nice":false,"zero":false},"title":null},
 "detail":{"field":"b","type":"nominal"}}},
{"data":{"name":"zz"},"mark":{"type":"line","color":"#FF0000","strokeWidth":1.5},
 "encoding":{"x":{"field":"i","type":"quantitative","scale":{"domain":[-0.67,620.67],"nice":false,"zero":false},"axis":null},
 "y":{"field":"p","type":"quantitative","scale":{"domain":[0.69035,0.96373],"nice":false,"zero":false},"title":null},
 "detail":{"field":"z","type":"nominal"}}},
{"data":{"name":"lev"},"mark":{"type":"rule","color":"#9400D3","strokeWidth":2},
 "encoding":{"y":{"field":"p","type":"quantitative","scale":{"domain":[0.69035,0.96373],"nice":false,"zero":false},"title":null}}},
{"data":{"name":"lev"},"mark":{"type":"point","shape":"M-1,-0.26H1V0.26H-1Z","size":1936,"filled":true,"color":"#9400D3","opacity":1},
 "encoding":{"x":{"datum":628.67,"type":"quantitative","scale":{"domain":[-0.67,620.67],"nice":false,"zero":false},"axis":null},
 "y":{"field":"p","type":"quantitative","scale":{"domain":[0.69035,0.96373],"nice":false,"zero":false},"title":null}}},
{"data":{"name":"lev"},"mark":{"type":"text","color":"#ffffff","align":"center","baseline":"middle","font":"DejaVu Sans Condensed, DejaVu Sans","fontSize":10},
 "encoding":{"x":{"datum":628.67,"type":"quantitative","scale":{"domain":[-0.67,620.67],"nice":false,"zero":false},"axis":null},
 "y":{"field":"p","type":"quantitative","scale":{"domain":[0.69035,0.96373],"nice":false,"zero":false},"title":null},
 "text":{"field":"p","type":"quantitative","format":".5f"}}},
{"data":{"values":[{"label":"BB ON"}]},"mark":{"type":"point","shape":"M-1,-0.243H1V0.243H-1Z","size":3600,"filled":true,"color":"#000000","opacity":1},
 "encoding":{"x":{"datum":610.3,"type":"quantitative","scale":{"domain":[-0.67,620.67],"nice":false,"zero":false},"axis":null},
 "y":{"datum":0.749,"type":"quantitative","scale":{"domain":[0.69035,0.96373],"nice":false,"zero":false},"title":null}}},
{"data":{"values":[{"label":"BB ON"}]},"mark":{"type":"text","color":"#ffffff","align":"center","baseline":"middle","font":"DejaVu Sans","fontSize":11.5},
 "encoding":{"x":{"datum":610.3,"type":"quantitative","scale":{"domain":[-0.67,620.67],"nice":false,"zero":false},"axis":null},
 "y":{"datum":0.749,"type":"quantitative","scale":{"domain":[0.69035,0.96373],"nice":false,"zero":false},"title":null},
 "text":{"field":"label","type":"nominal"}}},
{"data":{"values":[{"label":"shift"}]},"mark":{"type":"point","shape":"triangle-down","size":45,"filled":true,"color":"#A0A0A0","opacity":1},
 "encoding":{"x":{"datum":496,"type":"quantitative","scale":{"domain":[-0.67,620.67],"nice":false,"zero":false},"axis":null},
 "y":{"datum":0.9627,"type":"quantitative","scale":{"domain":[0.69035,0.96373],"nice":false,"zero":false},"title":null}}}
]
}
